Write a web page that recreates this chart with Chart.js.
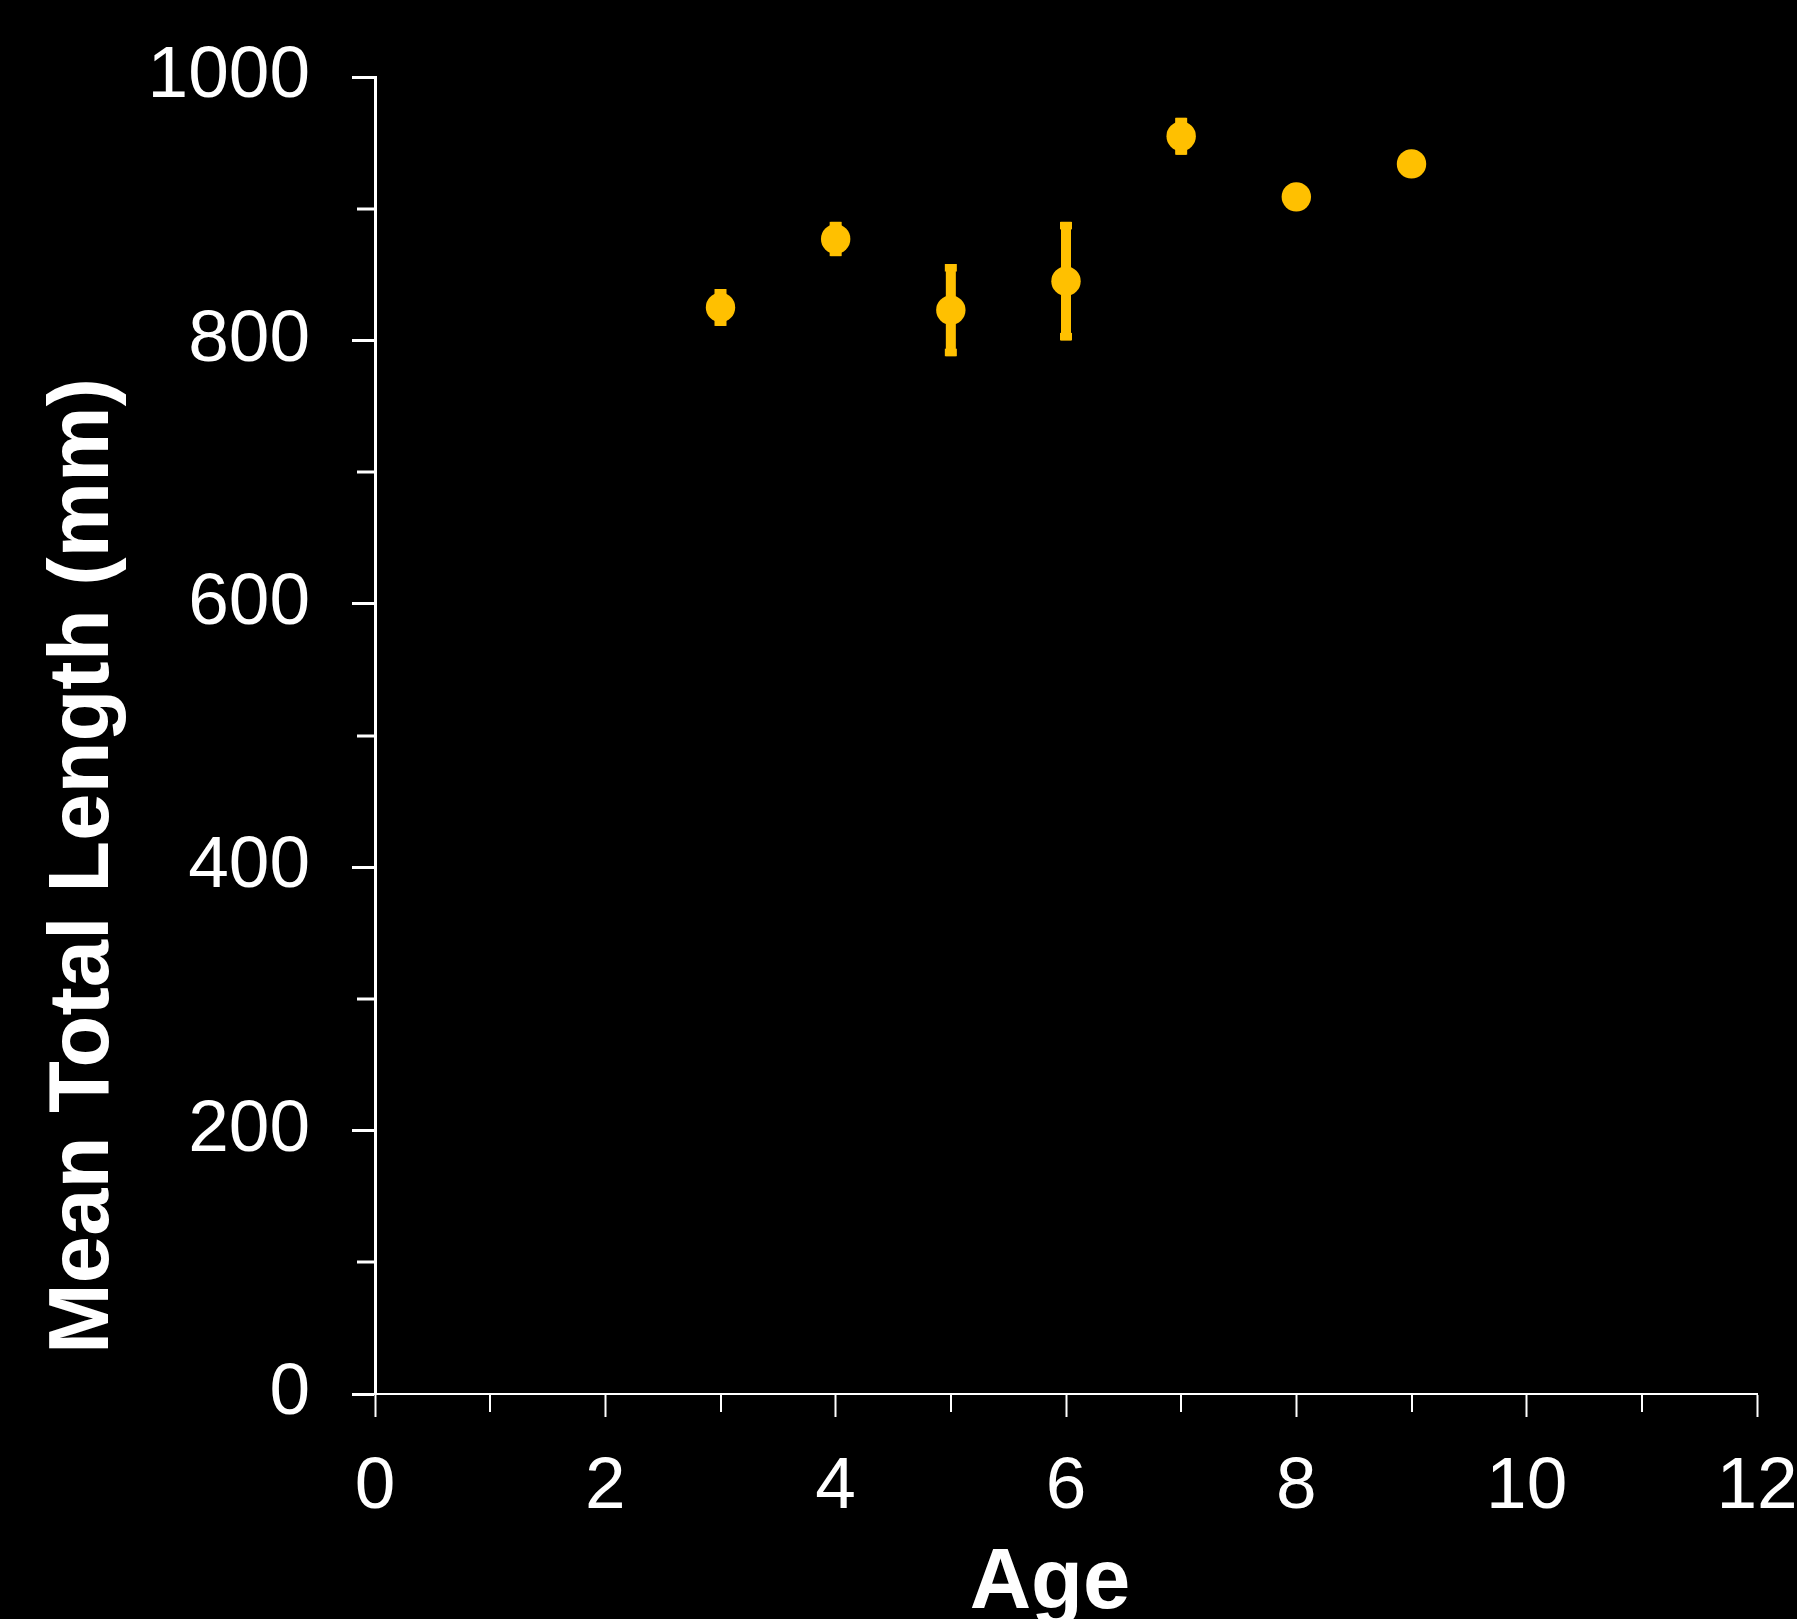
<!DOCTYPE html>
<html>
<head>
<meta charset="utf-8">
<script src="https://cdn.jsdelivr.net/npm/chart.js@4.4.1/dist/chart.umd.min.js"></script>
<style>
  html, body { margin: 0; padding: 0; background: #000; }
  #wrap { width: 1797px; height: 1619px; }
</style>
</head>
<body>
<div id="wrap"><canvas id="ageChart" width="1797" height="1619"></canvas></div>
<script>
// data
const ages = [3, 4, 5, 6, 7, 8, 9];
const meanLength = [825, 877, 823, 845, 955, 909, 934];
const errLength = [14, 13, 35, 45, 14, 0, 0];
const xTicks = [0, 2, 4, 6, 8, 10, 12];
const yTicks = [0, 200, 400, 600, 800, 1000];

const yTitle = 'Mean Total Length (mm)';
const xTitle = 'Age';

const gold = '#FFC000';
const fontFamily = '"Liberation Sans", Arial, sans-serif';

// error bars drawn under the points, with the library's scales
const errorBars = {
  id: 'errorBars',
  beforeDatasetsDraw(chart) {
    const ctx = chart.ctx;
    const xs = chart.scales.x, ys = chart.scales.y;
    ctx.save();
    ctx.fillStyle = gold;
    ages.forEach((a, i) => {
      const e = errLength[i];
      if (!e) return;
      const px = xs.getPixelForValue(a);
      const top = ys.getPixelForValue(meanLength[i] + e);
      const bot = ys.getPixelForValue(meanLength[i] - e);
      ctx.fillRect(px - 5, top, 10, bot - top);
      ctx.fillRect(px - 6, top, 12, 7.5);
      ctx.fillRect(px - 6, bot - 7.5, 12, 7.5);
    });
    ctx.restore();
  }
};

// background, minor ticks and axis titles
const decor = {
  id: 'decor',
  beforeDraw(chart) {
    const ctx = chart.ctx;
    ctx.save();
    ctx.fillStyle = '#000';
    ctx.fillRect(0, 0, chart.width, chart.height);
    ctx.restore();
  },
  afterDraw(chart) {
    const ctx = chart.ctx;
    const xs = chart.scales.x, ys = chart.scales.y;
    const area = chart.chartArea;
    ctx.save();
    ctx.fillStyle = '#fff';
    // minor ticks
    for (let v = 1; v < 12; v += 2) {
      const px = Math.round(xs.getPixelForValue(v));
      ctx.fillRect(px - 1, area.bottom, 2, 18);
    }
    for (let v = 100; v < 1000; v += 200) {
      const py = Math.round(ys.getPixelForValue(v));
      ctx.fillRect(area.left - 18, py - 1.5, 18, 3);
    }
    // axis titles
    ctx.font = 'bold 85px ' + fontFamily;
    ctx.textAlign = 'center';
    ctx.textBaseline = 'alphabetic';
    ctx.fillText(xTitle, 1050, 1608);
    ctx.translate(108, 866);
    ctx.rotate(-Math.PI / 2);
    ctx.fillText(yTitle, 0, 0);
    ctx.restore();
  }
};

const ctx = document.getElementById('ageChart').getContext('2d');
const chart = new Chart(ctx, {
  type: 'scatter',
  data: {
    datasets: [{
      label: 'Mean total length',
      data: ages.map((a, i) => ({ x: a, y: meanLength[i] })),
      backgroundColor: gold,
      borderColor: gold,
      borderWidth: 0,
      pointRadius: 14.7,
      pointHoverRadius: 14.7
    }]
  },
  options: {
    responsive: false,
    animation: false,
    devicePixelRatio: 1,
    layout: { padding: { top: 77, right: 40, left: 0, bottom: 0 } },
    plugins: {
      legend: { display: false },
      tooltip: { enabled: false }
    },
    scales: {
      x: {
        type: 'linear',
        min: 0,
        max: 12,
        afterFit: s => {
          s.height = 225;
          s.paddingLeft = 0;
          s.paddingRight = 0;
        },
        afterBuildTicks: s => {
          s.ticks = [];
          for (let v = 0; v <= 12; v++) s.ticks.push({ value: v });
        },
        ticks: {
          autoSkip: false,
          maxRotation: 0,
          padding: 27,
          color: '#fff',
          font: { family: fontFamily, size: 73 },
          callback: v => xTicks.includes(v) ? String(v) : ''
        },
        grid: {
          drawOnChartArea: false,
          tickLength: 23,
          tickWidth: 2,
          tickColor: c => (c.tick && xTicks.includes(c.tick.value)) ? '#fff' : 'rgba(0,0,0,0)'
        },
        border: { display: true, color: '#fff', width: 2 }
      },
      y: {
        type: 'linear',
        min: 0,
        max: 1000,
        afterFit: s => {
          s.width = 375;
          s.paddingTop = 0;
          s.paddingBottom = 0;
        },
        afterBuildTicks: s => {
          s.ticks = [];
          for (let v = 0; v <= 1000; v += 100) s.ticks.push({ value: v });
        },
        ticks: {
          autoSkip: false,
          padding: 42,
          color: '#fff',
          font: { family: fontFamily, size: 73 },
          callback: v => yTicks.includes(v) ? String(v) : ''
        },
        grid: {
          drawOnChartArea: false,
          tickLength: 23,
          tickWidth: 3,
          tickColor: c => (c.tick && yTicks.includes(c.tick.value)) ? '#fff' : 'rgba(0,0,0,0)'
        },
        border: { display: true, color: '#fff', width: 3 }
      }
    }
  },
  plugins: [decor, errorBars]
});
</script>
</body>
</html>
